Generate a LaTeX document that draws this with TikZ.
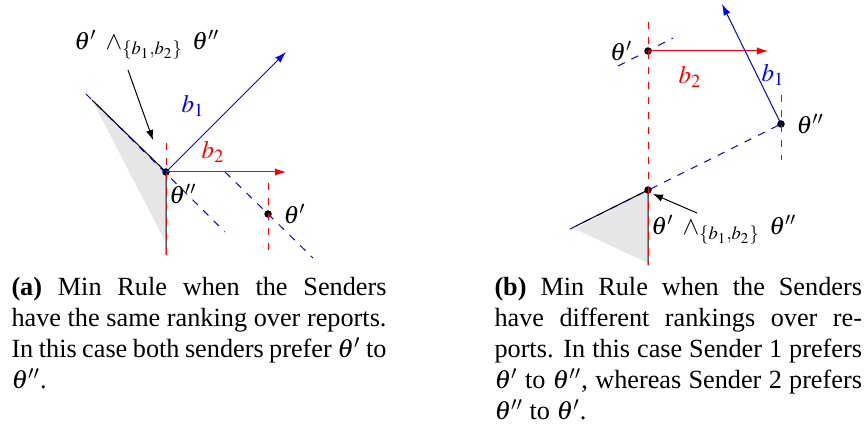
\documentclass[tikz,border=0pt]{standalone}
\usepackage{mathptmx}
\usepackage[no-math]{fontspec}
\setmainfont{Liberation Serif}
\usepackage{xcolor}
\usetikzlibrary{positioning, arrows.meta, calc}
\definecolor{conegray}{HTML}{E6E6E6}

\tikzset{
  vec/.style={-{Latex[length=4.5pt,width=3pt]}, line width=0.4pt},
  pointer/.style={-{Latex[length=4pt,width=3pt]}, line width=0.4pt},
  perp/.style={dashed, line width=0.4pt},
  dot/.style={circle, fill=black, inner sep=0pt, minimum size=3pt},
  subcap/.style={text width=#1, align=justify, inner sep=0pt, anchor=base west,
                 font=\fontsize{10.5pt}{12.4pt}\selectfont},
}

\begin{document}
\begin{tikzpicture}[x=0.4pt, y=-0.4pt]
    \useasboundingbox (0,0) rectangle (867,432);

    \coordinate (ca) at (86,94);
    \coordinate (da) at (166,255);
    \coordinate (b1a) at (286,52);
    \coordinate (b2a) at (286,172);
    \fill[conegray] (92,100) -- (166,172) -- (166,243) -- cycle;
    \node[dot] (va) at (166,172) {};
    \node[dot] (tha) at (268,214) {};
    \draw[blue, perp] (ca) -- (225,232);
    \draw[blue, perp] (225,172) -- (313,258);
    \draw[line width=0.4pt] (92,100) -- (va.center) -- (da);
    \draw[red, perp] (166,143) -- (da);
    \draw[red, perp] (268,183) -- (268,250);
    \draw[blue, vec] (va.center) -- (b1a);
    \draw[red, vec] (va.center) -- (b2a);
    \node[blue] (lb1a) at (193,106) {$b_1$};
    \node[red] (lb2a) at (213,152) {$b_2$};
    \node[right=1pt of tha] (ltha) {$\theta'$};
    \node (lva) at (183,194) {$\theta''$};
    \node (anna) at (147,45) {$\theta'\;\wedge_{\{b_1,b_2\}}\;\theta''$};
    \coordinate (taila) at (128,70);
    \coordinate (tipa) at (153,140);
    \draw[pointer] (taila) -- (tipa);

    \coordinate (cb) at (570,229);
    \coordinate (db) at (648,265);
    \coordinate (b1b) at (722,4);
    \coordinate (b2b) at (768,51);
    \fill[conegray] (575,229) -- (648,190) -- (648,263) -- cycle;
    \node[dot] (vb) at (648,190) {};
    \node[dot] (thpb) at (648,51) {};
    \node[dot] (thppb) at (781,124) {};
    \draw[blue, perp] (cb) -- (thppb.center);
    \draw[blue, perp] (618,66) -- (673,38);
    \draw[line width=0.4pt] (576,226) -- (vb.center) -- (db);
    \draw[red, perp] (648,22) -- (db);
    \draw[red, perp] (781,95) -- (781,160);
    \draw[red, vec] (thpb.center) -- (b2b);
    \draw[blue, vec] (thppb.center) -- (b1b);
    \node[red] (lb2b) at (690,77) {$b_2$};
    \node[blue] (lb1b) at (773,75) {$b_1$};
    \node[left=1pt of thpb] (lthpb) {$\theta'$};
    \node[right=1pt of thppb] (lthppb) {$\theta''$};
    \node (annb) at (724,230) {$\theta'\;\wedge_{\{b_1,b_2\}}\;\theta''$};
    \coordinate (tailb) at (697,213);
    \coordinate (tipb) at (653,194);
    \draw[pointer] (tailb) -- (tipb);

    \node[subcap=150pt] (capa) at (11,296) {\textbf{(a)} Min Rule when the Senders\linebreak
      have the same ranking over reports.\linebreak
      In this case both senders prefer $\theta'$ to\linebreak
      $\theta''$.};
    \node[subcap=147pt] (capb) at (494,296) {\textbf{(b)} Min Rule when the Senders\linebreak
      have different rankings over re-\linebreak
      ports. In this case Sender 1 prefers\linebreak
      $\theta'$ to $\theta''$, whereas Sender 2 prefers\linebreak
      $\theta''$ to $\theta'$.};
  \end{tikzpicture}
\end{document}
